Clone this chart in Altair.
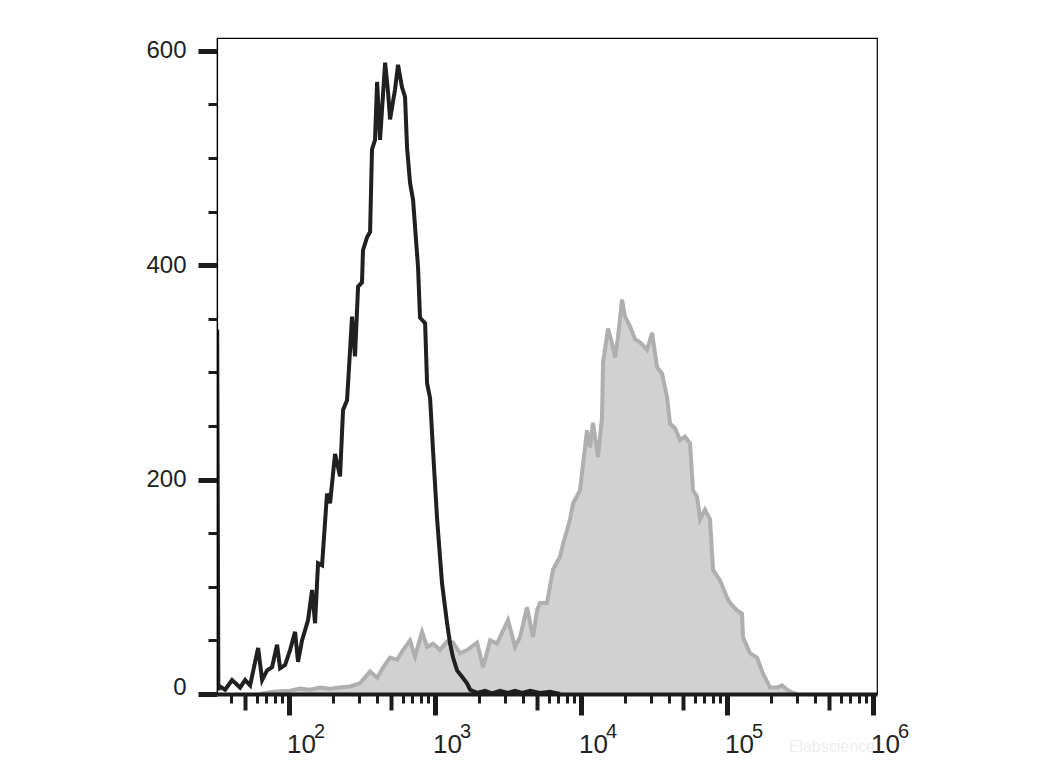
import altair as alt
import pandas as pd

# Black (isotype/control) histogram: fluorescence intensity vs count
black_x = [32.2, 32.8, 33.7, 36.5, 40.7, 46.2, 50.0, 54.1, 61.4, 65.4, 70.7, 76.5, 82.8, 86.8, 93.9,
           101.6, 110, 115.2, 122.7, 135, 143.8, 150.7, 158, 168.3, 182, 191, 206.6, 223.5, 234.4,
           249.6, 261.6, 270, 283, 297, 316, 321, 342, 359, 370, 388, 401, 420, 455, 477, 492, 532,
           558, 594, 623, 643, 674, 707, 765, 789, 855, 882, 925, 969, 1032, 1117, 1209, 1268, 1329,
           1415, 1531, 1656, 1738, 1941, 2198, 2455, 2786, 3162, 3532, 3945, 4477, 5238, 6133, 7180]
black_y = [340, 4, 7, 4, 13, 6, 13, 8, 43, 13, 22, 25, 46, 24, 27,
           41, 58, 30, 50, 69, 97, 66, 122, 120, 187, 178, 224, 203, 265,
           274, 320, 352, 315, 380, 384, 414, 426, 431, 508, 517, 571, 517, 589, 561, 536, 564,
           587, 566, 557, 510, 477, 461, 398, 351, 346, 290, 276, 227, 164, 103, 66, 47, 34,
           22, 16, 10, 4, 1, 3, 0.5, 3, 1, 3, 1, 3, 1, 2, 0]

# Gray (stained) histogram
gray_x = [63.2, 77.6, 101.6, 119, 139, 163, 191, 223, 262, 306, 359, 401, 441, 492, 550, 604, 674,
          729, 815, 882, 969, 1081, 1209, 1329, 1483, 1656, 1941, 2134, 2383, 2661, 2786, 3162,
          3532, 3821, 4266, 4688, 5000, 5238, 5848, 6427, 7180, 7530, 8018, 8413, 8818, 9841,
          10990, 11530, 12080, 13070, 13920, 14150, 15310, 16300, 17100, 17910, 19090, 20000,
          21670, 23440, 25360, 28330, 30650, 33160, 35900, 38830, 40740, 44080, 47680, 51570,
          55800, 58480, 62370, 65320, 70660, 76490, 80200, 89540, 100000, 104900, 117100,
          126700, 128700, 143800, 160400, 176400, 197200, 219900, 238100, 257700, 283300, 301400]
gray_y = [0, 2, 3, 5, 4, 6, 5, 6, 7, 10, 21, 15, 25, 34, 32, 41, 50,
          35, 58, 44, 47, 41, 49, 48, 38, 41, 48, 25, 50, 47, 53, 69,
          44, 53, 81, 53, 78, 85, 85, 116, 128, 140, 153, 163, 178, 190,
          246, 230, 253, 221, 258, 309, 341, 327, 314, 333, 368, 352,
          343, 331, 328, 321, 337, 305, 299, 277, 252, 248, 237, 240,
          234, 190, 184, 163, 172, 163, 116, 106, 90, 85, 78,
          75, 53, 38, 34, 19, 6, 6, 8, 4, 1, 0]

# Axis tick values and labels
x_ticks = [40, 50, 60, 70, 80, 90,
           100, 200, 300, 400, 500, 600, 700, 800, 900,
           1000, 2000, 3000, 4000, 5000, 6000, 7000, 8000, 9000,
           10000, 20000, 30000, 40000, 50000, 60000, 70000, 80000, 90000,
           100000, 200000, 300000, 400000, 500000, 600000, 700000, 800000, 900000, 1000000]
x_label_pos = [100, 1000, 10000, 100000, 1000000]
x_label_base = ["10", "10", "10", "10", "10"]
x_label_exp = ["2", "3", "4", "5", "6"]
y_ticks = [0, 50, 100, 150, 200, 250, 300, 350, 400, 450, 500, 550, 600]

black_df = pd.DataFrame({"x": black_x, "y": black_y})
gray_df = pd.DataFrame({"x": gray_x, "y": gray_y})
lab_df = pd.DataFrame({"x": x_label_pos, "base": x_label_base, "exp": x_label_exp})

W, H = 660, 656
FONT = "Liberation Sans"
INK = "#1c1c1c"

xscale = alt.Scale(type="log", domain=[32.1, 1.065e6], nice=False)
yscale = alt.Scale(domain=[0, 612], nice=False, zero=True)

is_decade = "abs(log(datum.value)/LN10 - round(log(datum.value)/LN10)) < 0.001"
is_five = "abs(datum.value / pow(10, floor(log(datum.value)/LN10 + 1e-9)) - 5) < 0.001"

x_axis = alt.Axis(
    values=x_ticks, labels=False, title=None, grid=False, zindex=1,
    domainColor=INK, domainWidth=4, tickColor=INK,
    tickSize={"condition": [{"test": is_decade, "value": 21}, {"test": is_five, "value": 16}], "value": 9},
    tickWidth={"condition": [{"test": is_decade, "value": 5}, {"test": is_five, "value": 4}], "value": 3},
)
y_axis = alt.Axis(
    values=y_ticks, title=None, grid=False, zindex=1,
    labelExpr="datum.value % 200 == 0 ? datum.label : ''",
    labelFont=FONT, labelFontSize=24, labelColor="#222222", labelPadding=12,
    labelOffset={"condition": {"test": "datum.value == 0", "value": -7}, "value": 0},
    domainColor="#000000", domainWidth=1.2, tickColor=INK,
    tickSize={"condition": {"test": "datum.value % 200 == 0", "value": 19}, "value": 9},
    tickWidth={"condition": {"test": "datum.value % 200 == 0", "value": 5}, "value": 3},
)

gray_area = alt.Chart(gray_df).mark_area(color="#d1d1d1", clip=True, interpolate="linear").encode(
    x=alt.X("x:Q", scale=xscale, axis=x_axis),
    y=alt.Y("y:Q", scale=yscale, axis=y_axis),
)
gray_line = alt.Chart(gray_df).mark_line(color="#afafaf", strokeWidth=4, clip=True,
                                         strokeJoin="miter").encode(
    x=alt.X("x:Q", scale=xscale),
    y=alt.Y("y:Q", scale=yscale),
)
black_line = alt.Chart(black_df).mark_line(color="#202020", strokeWidth=4, clip=True,
                                           strokeJoin="miter").encode(
    x=alt.X("x:Q", scale=xscale),
    y=alt.Y("y:Q", scale=yscale),
)
base_lab = alt.Chart(lab_df).mark_text(
    align="left", baseline="alphabetic", font=FONT, fontSize=26, color="#222222", dx=-2
).encode(x=alt.X("x:Q", scale=xscale), y=alt.value(H + 59), text="base:N")
exp_lab = alt.Chart(lab_df).mark_text(
    align="left", baseline="alphabetic", font=FONT, fontSize=20, color="#222222", dx=25
).encode(x=alt.X("x:Q", scale=xscale), y=alt.value(H + 44), text="exp:N")
wm = alt.Chart(pd.DataFrame({"x": [1000000], "t": ["Elabscience"]})).mark_text(
    align="right", baseline="alphabetic", font=FONT, fontSize=16, color="#eeeeee", dx=2
).encode(x=alt.X("x:Q", scale=xscale), y=alt.value(H + 58), text="t:N")

chart = alt.layer(gray_area, gray_line, black_line, wm, base_lab, exp_lab).properties(
    width=W, height=H, autosize="none", background="white",
    padding={"left": 209, "top": 30, "right": 150, "bottom": 70},
).configure_view(stroke="#000000", strokeWidth=1.2)

chart.save("out.html", embed_options={"renderer": "svg", "actions": False})
